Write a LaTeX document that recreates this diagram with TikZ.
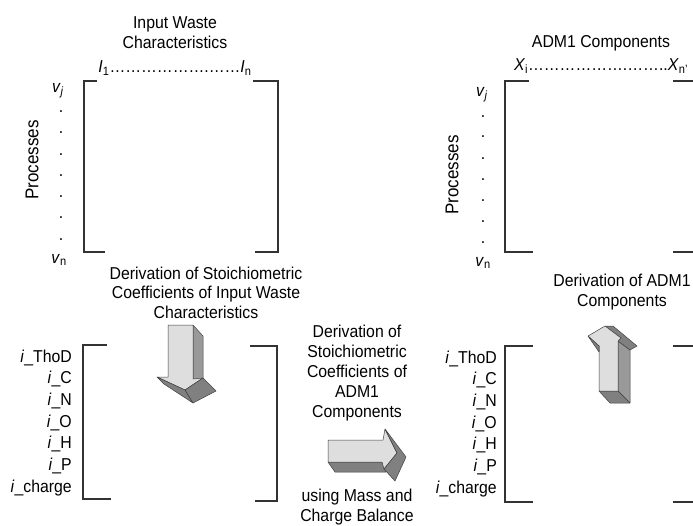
\documentclass[tikz,border=0pt]{standalone}
\usepackage{fontspec}
\setmainfont{Liberation Sans}[FakeStretch=0.92]
\begin{document}
\begin{tikzpicture}[x=1pt,y=-1pt,
  brk/.style={line width=1.2pt, draw=black!80},
  lbl/.style={font=\fontsize{17.2}{20.5}\selectfont, inner sep=0pt, align=center},
  ilbl/.style={font=\fontsize{17.2}{20.5}\selectfont, inner sep=0pt, anchor=base east},
  dotc/.style={font=\fontsize{17.2}{20.5}\selectfont, inner sep=0pt},
  face/.style={draw=black!75, line width=0.5pt, line join=round},
  lightface/.style={face, fill=black!13},
  midface/.style={face, fill=black!40},
  darkface/.style={face, fill=black!50}]
\useasboundingbox (0,0) rectangle (693,525);
\clip (0,0) rectangle (693,525);

% ---------- top-left matrix ----------
\draw[brk] (97,81) -- (84,81) -- (84,252) -- (105,252);
\draw[brk] (253,81) -- (278,81) -- (278,252) -- (255,252);
\node[lbl] (hdrA) at (175,32.5) {Input Waste\\Characteristics};
\node[lbl] (idxA) at (175,68) {\textit{I}\textsubscript{1}……………….……\textit{I}\textsubscript{n}};
\node[lbl] (vjA) at (58,91) {\textit{v}\textsubscript{\textit{j}}};
\foreach \yy [count=\k] in {112,133,155,176,197,218,240}
  \node[dotc] (dA\k) at (61,\yy) {.};
\node[lbl] (vnA) at (59,260) {\textit{v}\textsubscript{n}};
\node[lbl, rotate=90, font=\fontsize{18.5}{20}\selectfont] (procA) at (32,160) {Processes};

% ---------- top-right matrix ----------
\draw[brk] (529,81) -- (505,81) -- (505,252) -- (533,252);
\draw[brk] (673,81) -- (698,81) -- (698,252) -- (673,252);
\node[lbl] (hdrB) at (601,43) {ADM1 Components};
\node[lbl] (idxB) at (601,66) {\textit{X}\textsubscript{i}……………….……..\textit{X}\textsubscript{n'}};
\node[lbl] (vjB) at (482,95) {\textit{v}\textsubscript{\textit{j}}};
\foreach \yy [count=\k] in {117,137,159,180,201,222,243}
  \node[dotc] (dB\k) at (483,\yy) {.};
\node[lbl] (vnB) at (483,263) {\textit{v}\textsubscript{n}};
\node[lbl, rotate=90, font=\fontsize{18.5}{20}\selectfont] (procB) at (452,175) {Processes};

% ---------- bottom-left matrix ----------
\draw[brk] (107,345) -- (83,345) -- (83,499) -- (111,499);
\draw[brk] (250,346) -- (277,346) -- (277,501) -- (255,501);
\foreach \t [count=\k] in {ThoD,C,N,O,H,P,charge}
  \node[ilbl] (lA\k) at (72,{362+21.7*(\k-1)}) {\textit{i}\_\t};

% ---------- bottom-right matrix ----------
\draw[brk] (533,346) -- (505,346) -- (505,502) -- (533,502);
\draw[brk] (673,346) -- (698,346) -- (698,502) -- (673,502);
\foreach \t [count=\k] in {ThoD,C,N,O,H,P,charge}
  \node[ilbl] (lB\k) at (497,{363+21.7*(\k-1)}) {\textit{i}\_\t};

% ---------- captions ----------
\node[lbl, font=\fontsize{17.2}{19.5}\selectfont] (capA) at (206,292.5) {Derivation of Stoichiometric\\Coefficients of Input Waste\\Characteristics};
\node[lbl, font=\fontsize{17.2}{20.2}\selectfont] (capB) at (357,373) {Derivation of\\Stoichiometric\\Coefficients of\\ADM1\\Components};
\node[lbl, font=\fontsize{17.2}{20}\selectfont] (capC) at (357,507) {using Mass and\\Charge Balance};
\node[lbl, font=\fontsize{17.2}{20}\selectfont] (capD) at (622,292) {Derivation of ADM1\\Components};

% ---------- down arrow ----------
\filldraw[midface] (193,325) -- (203,336) -- (203,379) -- (193,380) -- cycle;
\filldraw[lightface] (168,325) -- (193,325) -- (193,379) -- (203,378) -- (185,390) -- (157,377) -- (168,377) -- cycle;
\filldraw[darkface] (157,377) -- (185,390) -- (193,403) -- (164,384) -- cycle;
\filldraw[darkface] (185,390) -- (203,378) -- (216,391) -- (193,403) -- cycle;

% ---------- right arrow ----------
\filldraw[darkface] (328,462) -- (382,462) -- (386,472) -- (335,472) -- cycle;
\filldraw[lightface] (328,440) -- (383,440) -- (385,429) -- (397,453) -- (384,469) -- (382,462) -- (328,462) -- cycle;
\filldraw[darkface] (385,429) -- (406,457) -- (395,481) -- (384,469) -- (397,453) -- cycle;

% ---------- up arrow ----------
\filldraw[midface] (618,341) -- (630,350) -- (630,403) -- (618,391) -- cycle;
\filldraw[darkface] (599,391) -- (618,391) -- (630,403) -- (610,403) -- cycle;
\filldraw[darkface] (605,326) -- (613,326) -- (637,346) -- (630,350) -- (618,341) -- (621,338) -- cycle;
\filldraw[lightface] (599,391) -- (599,346) -- (588,336) -- (605,326) -- (621,338) -- (618,341) -- (618,391) -- cycle;
\filldraw[darkface] (588,336) -- (599,346) -- (599,352) -- cycle;
\end{tikzpicture}
\end{document}
